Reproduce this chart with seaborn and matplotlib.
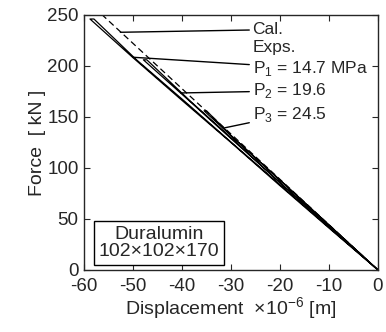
import matplotlib
matplotlib.use('Agg')
import matplotlib.pyplot as plt
import seaborn as sns
import pandas as pd

sns.set_style('ticks')
plt.rcParams['font.family'] = ['Liberation Sans', 'DejaVu Sans']
plt.rcParams['axes.unicode_minus'] = False
plt.rcParams['mathtext.fontset'] = 'custom'
plt.rcParams['mathtext.rm'] = 'Liberation Sans'
FS = 14

# values (displacement in 1e-6 m, force in kN)
cal_disp = [0, -56.3]
cal_force = [0, 250]

p1_disp = [0, -9.5, -20.1, -29.8, -40.2, -50.0, -58.8, -58.0, -49.3, -39.4, -29.2, -19.6, -9.8, 0]
p1_force = [0, 39, 83, 124, 167, 208, 246, 246, 206, 165, 122, 82, 41, 0]

p2_disp = [0, -10.1, -19.4, -29.6, -38.8, -47.9, -47.2, -38.2, -28.9, -19.0, -9.6, 0]
p2_force = [0, 43, 83, 127, 167, 206, 206, 165, 125, 81, 42, 0]

p3_disp = [0, -9.8, -20.3, -30.1, -35.5, -35.0, -29.6, -19.7, -9.5, 0]
p3_force = [0, 43, 89, 132, 156, 156, 130, 87, 42, 0]

labels = ['Cal.', 'Exps.', 'P$_1$ = 14.7 MPa', 'P$_2$ = 19.6', 'P$_3$ = 24.5']
label_xy = [(-25.6, 237), (-25.6, 220), (-25.6, 200), (-25.6, 178), (-25.6, 155)]
label_tip = [(-52.6, 233), None, (-50.0, 208.5), (-40.3, 173.5), (-31.6, 139)]

x_ticks = [-60, -50, -40, -30, -20, -10, 0]
y_ticks = [0, 50, 100, 150, 200, 250]

fig = plt.figure(figsize=(3.86, 3.32), dpi=100)
ax = fig.add_axes([0.218, 0.187, 0.761, 0.768])

series = [('cal', cal_disp, cal_force, (5, 3)),
          ('p1', p1_disp, p1_force, None),
          ('p2', p2_disp, p2_force, None),
          ('p3', p3_disp, p3_force, None)]
for name, xs, ys, dash in series:
    df = pd.DataFrame({'disp': xs, 'force': ys})
    g = sns.lineplot(data=df, x='disp', y='force', sort=False, estimator=None,
                     color='k', lw=0.9, ax=ax)
    if dash is not None:
        g.lines[-1].set_dashes(dash)

for txt, xy, tip in zip(labels, label_xy, label_tip):
    if tip is None:
        ax.text(xy[0], xy[1], txt, ha='left', va='center_baseline', fontsize=12.5)
    else:
        ax.annotate(txt, xy=tip, xytext=xy, ha='left', va='center_baseline', fontsize=12.5,
                    arrowprops=dict(arrowstyle='-', color='k', lw=1.0,
                                    shrinkA=0, shrinkB=0))

ax.text(0.255, 0.105, 'Duralumin\n102×102×170', transform=ax.transAxes,
        ha='center', va='center', fontsize=FS, linespacing=1.0,
        bbox=dict(boxstyle='square,pad=0.25', fc='white', ec='k', lw=1.0))

ax.set_xlim(-60, 0)
ax.set_ylim(0, 250)
ax.set_xticks(x_ticks)
ax.set_yticks(y_ticks)
ax.tick_params(direction='in', top=True, right=True, length=4, labelsize=13.5, pad=4)
ax.tick_params(axis='x', pad=6)
for s in ax.spines.values():
    s.set_linewidth(1.0)
    s.set_visible(True)
ax.set_xlabel('Displacement  ×10$^{-6}$ [m]', fontsize=FS, labelpad=0)
ax.set_ylabel('Force  [ kN ]', fontsize=FS, labelpad=1)

fig.savefig('out.png', dpi=100)
